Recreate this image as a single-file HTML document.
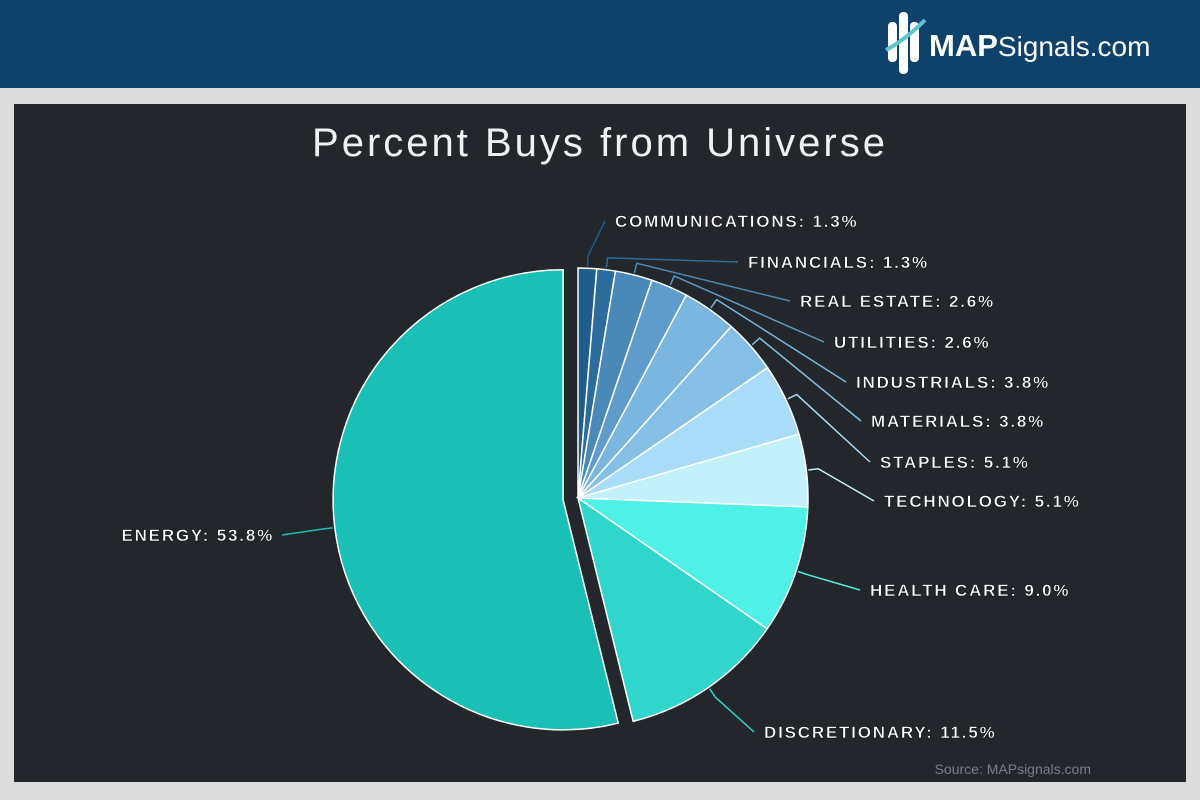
<!DOCTYPE html>
<html><head><meta charset="utf-8"><style>
body{margin:0;width:1200px;height:800px;background:#dcdcdc;font-family:"Liberation Sans",sans-serif;overflow:hidden}
#hdr{position:absolute;left:0;top:0;width:1200px;height:88px;background:#0e426b}
#panel{position:absolute;left:14px;top:104px;width:1172px;height:678px;background:#23272b}
</style></head><body>
<div id="hdr">
<svg width="1200" height="88">
<rect x="888" y="22" width="9" height="40" rx="4" fill="#fff"/><rect x="899" y="12" width="9" height="62" rx="4" fill="#fff"/><rect x="910" y="22" width="9" height="40" rx="4" fill="#fff"/>
<path d="M886 50 Q905 40 925 20" stroke="#5cc6d0" stroke-width="4" fill="none"/>
<text x="929" y="56" font-size="31" font-weight="bold" fill="#fff" font-family="Liberation Sans">MAP<tspan font-weight="normal" font-size="28">Signals.com</tspan></text>
</svg></div>
<div id="panel"></div>
<svg id="chart" width="1200" height="800" style="position:absolute;left:0;top:0">
<text x="600" y="156" text-anchor="middle" font-size="40" letter-spacing="3" fill="#f0f0f0" font-family="Liberation Sans">Percent Buys from Universe</text>
<text x="1091" y="774" text-anchor="end" font-size="14" fill="#7a7f85" font-family="Liberation Sans">Source: MAPsignals.com</text>
<g id="slices"></g><g id="labels"></g>
</svg>
<script>
const categories=["COMMUNICATIONS","FINANCIALS","REAL ESTATE","UTILITIES","INDUSTRIALS","MATERIALS","STAPLES","TECHNOLOGY","HEALTH CARE","DISCRETIONARY","ENERGY"];
const values=[1.3,1.3,2.6,2.6,3.8,3.8,5.1,5.1,9.0,11.5,53.8];
const colors=["#1f5e8c","#2b6c9c","#4a88b8","#5f9ccb","#7ab6e0","#86bfe5","#a8dcf8","#c2f1fb","#4ff0e6","#30d6cc","#1abfb6"];
const labelPos=[[615,221],[748,262],[800,301],[834,342],[856,382],[871,421],[880,462],[884,501],[870,590],[764,732],[274,535]];
const NS="http://www.w3.org/2000/svg";
const cx=578,cy=498,R=230,explode=15;
const total=values.reduce((a,b)=>a+b,0);
const gS=document.getElementById('slices'),gL=document.getElementById('labels');
let a0=0;
values.forEach((v,i)=>{
  const a1=a0+v/total*Math.PI*2, am=(a0+a1)/2;
  let ox=cx,oy=cy;
  if(i===values.length-1){ox+=Math.sin(am)*explode;oy-=Math.cos(am)*explode;}
  const p=(a,r)=>[ox+Math.sin(a)*r,oy-Math.cos(a)*r];
  const s=p(a0,R),e=p(a1,R);
  const path=document.createElementNS(NS,'path');
  path.setAttribute('d',`M${ox},${oy}L${s[0]},${s[1]}A${R},${R} 0 ${a1-a0>Math.PI?1:0} 1 ${e[0]},${e[1]}Z`);
  path.setAttribute('fill',colors[i]);path.setAttribute('stroke','#ffffff');path.setAttribute('stroke-width','1.5');
  
  
  gS.appendChild(path);
  const m=p(am,R+2),m2=p(am,R+12);
  const [lx,ly]=labelPos[i];
  const right=i<values.length-1;
  const line=document.createElementNS(NS,'polyline');
  line.setAttribute('points',`${m[0]},${m[1]} ${m2[0]},${m2[1]} ${right?lx-10:lx+8},${ly}`);
  line.setAttribute('fill','none');line.setAttribute('stroke',colors[i]);line.setAttribute('stroke-width','1.5');
  
  
  gL.appendChild(line);
  const t=document.createElementNS(NS,'text');
  t.setAttribute('x',lx);t.setAttribute('y',ly+6);
  t.setAttribute('text-anchor',right?'start':'end');
  t.setAttribute('font-family','Liberation Sans');
  t.setAttribute('font-weight','bold');
  t.setAttribute('font-size','17');
  t.setAttribute('letter-spacing','1.8');
  t.setAttribute('fill','#ffffff');
  t.setAttribute('stroke','#000');t.setAttribute('stroke-width','0.4');
  t.textContent=categories[i]+': '+values[i].toFixed(1)+'%';
  
  
  gL.appendChild(t);
  a0=a1;
});
</script>
</body></html>
